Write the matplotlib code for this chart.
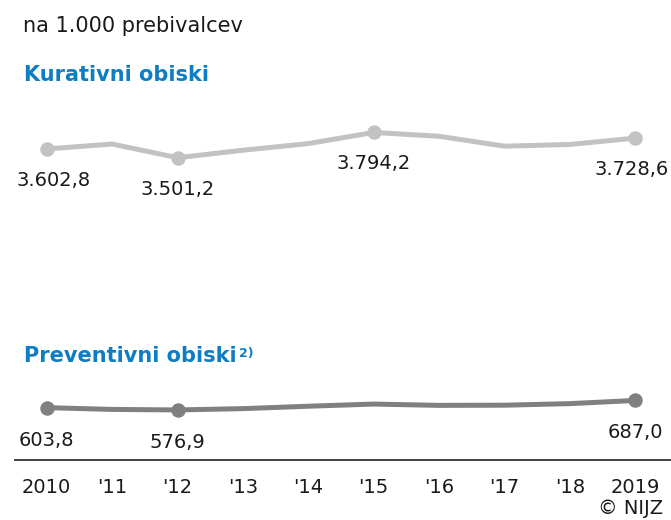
import matplotlib
matplotlib.use("Agg")
import matplotlib.pyplot as plt

years = [2010, 2011, 2012, 2013, 2014, 2015, 2016, 2017, 2018, 2019]
tick_labels = ["2010", "'11", "'12", "'13", "'14", "'15", "'16", "'17", "'18", "2019"]

# visits per 1000 inhabitants (labelled points exact, others)
curative = [3602.8, 3660, 3501.2, 3588, 3665, 3794.2, 3750, 3635, 3655, 3728.6]
preventive = [603.8, 583, 576.9, 592, 620, 645, 630, 632, 650, 687.0]

cur_marked = [0, 2, 5, 9]
prev_marked = [0, 2, 9]

cur_color = "#c2c2c2"
prev_color = "#808080"
blue = "#0d7dc4"
txt = "#1a1a1a"

plt.rcParams["font.family"] = "DejaVu Sans"

fig = plt.figure(figsize=(6.71, 5.2), dpi=100)
ax = fig.add_axes([15 / 671, (520 - 459.7) / 520, 656 / 671, 345 / 520])

ax.plot(years, curative, color=cur_color, lw=3.6, marker="o", ms=9.4,
        markevery=cur_marked, solid_joinstyle="round", solid_capstyle="round")
ax.plot(years, preventive, color=prev_color, lw=3.6, marker="o", ms=9.4,
        markevery=prev_marked, solid_joinstyle="round", solid_capstyle="round")

# value labels under the marked points
cur_dx = {0: 5, 9: -3}
for i in cur_marked:
    lab = f"{curative[i]:,.1f}".replace(",", " ").replace(".", ",").replace(" ", ".")
    ax.annotate(lab, (years[i], curative[i]), xytext=(cur_dx.get(i, 0), -26.6),
                textcoords="offset points", ha="center", va="baseline",
                fontsize=14, color=txt)
for i in prev_marked:
    lab = f"{preventive[i]:.1f}".replace(".", ",")
    ax.annotate(lab, (years[i], preventive[i]), xytext=(0, -27.3),
                textcoords="offset points", ha="center", va="baseline",
                fontsize=14, color=txt)

ax.set_xlim(2009.515, 2019.546)
ax.set_ylim(0, 4000)
ax.set_xticks(years)
ax.set_xticklabels(tick_labels, fontsize=14, color=txt)
ax.set_yticks([])
ax.tick_params(axis="x", length=0, pad=13.5)
for s in ["top", "left", "right"]:
    ax.spines[s].set_visible(False)
ax.spines["bottom"].set_color("#333333")
ax.spines["bottom"].set_linewidth(1.3)
ax.patch.set_alpha(0)

fig.text(0.035, 1 - 31.7 / 520, "na 1.000 prebivalcev", fontsize=15,
         color=txt, va="baseline", ha="left")
fig.text(0.036, 1 - 81 / 520, "Kurativni obiski", fontsize=15,
         fontweight="bold", color=blue, va="baseline", ha="left")
t = fig.text(0.036, 1 - 361.7 / 520, "Preventivni obiski", fontsize=15,
             fontweight="bold", color=blue, va="baseline", ha="left")
ax.annotate("2)", xy=(1, 1), xycoords=t, xytext=(1.5, -1),
            textcoords="offset points", ha="left", va="top",
            fontsize=9, fontweight="bold", color=blue)

fig.text(663 / 671, 0.012, "\u00a9 NIJZ", fontsize=14, color=txt,
         ha="right", va="baseline")

fig.savefig("out.png", dpi=100)
